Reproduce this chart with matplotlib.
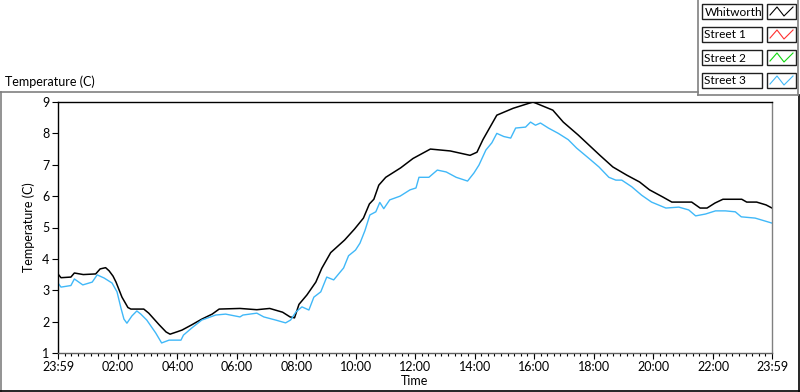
import numpy as np
import matplotlib
matplotlib.use('Agg')
import matplotlib.pyplot as plt
from matplotlib.lines import Line2D
from matplotlib.patches import Rectangle

# minutes after midnight (23:59 of previous day = -1)
whit_t = [-1, 5, 25, 32, 50, 75, 84, 95, 102, 110, 116, 128, 140, 146, 172, 182,
          203, 217, 225, 240, 249, 269, 289, 310, 324, 366, 400, 426, 452, 467,
          476, 485, 501, 519, 531, 549, 577, 597, 615, 627, 636, 646, 660, 677,
          690, 715, 750, 790, 830, 844, 856, 884, 917, 957, 997, 1018, 1048,
          1092, 1118, 1146, 1172, 1192, 1219, 1237, 1277, 1294, 1308, 1324,
          1340, 1378, 1388, 1408, 1427, 1439]
whit_v = [3.52, 3.4, 3.42, 3.55, 3.5, 3.52, 3.68, 3.72, 3.62, 3.45, 3.26, 2.78,
          2.45, 2.4, 2.4, 2.27, 1.9, 1.67, 1.6, 1.68, 1.73, 1.9, 2.08, 2.24, 2.4,
          2.42, 2.38, 2.42, 2.3, 2.15, 2.12, 2.55, 2.85, 3.26, 3.7, 4.2, 4.6,
          4.95, 5.3, 5.75, 5.9, 6.35, 6.6, 6.77, 6.9, 7.2, 7.5, 7.44, 7.3, 7.4,
          7.8, 8.58, 8.8, 9.0, 8.74, 8.36, 7.95, 7.3, 6.93, 6.67, 6.45, 6.2,
          5.97, 5.81, 5.81, 5.62, 5.62, 5.78, 5.9, 5.9, 5.81, 5.81, 5.72, 5.62]

st3_t = [-1, 5, 25, 32, 49, 68, 78, 92, 108, 118, 126, 132, 138, 148, 158, 166,
         178, 196, 208, 223, 247, 252, 269, 289, 317, 337, 366, 372, 400, 414,
         438, 458, 468, 479, 491, 505, 515, 529, 541, 555, 575, 585, 599, 608,
         618, 628, 640, 648, 656, 668, 689, 709, 721, 727, 747, 764, 782, 802,
         825, 838, 848, 862, 874, 884, 898, 912, 922, 942, 952, 962, 972, 988,
         1008, 1028, 1045, 1070, 1090, 1110, 1124, 1136, 1156, 1176, 1196,
         1225, 1251, 1271, 1285, 1305, 1325, 1345, 1365, 1377, 1405, 1439]
st3_v = [3.23, 3.1, 3.15, 3.36, 3.17, 3.26, 3.49, 3.39, 3.23, 2.95, 2.43, 2.08,
         1.95, 2.18, 2.34, 2.24, 2.05, 1.64, 1.32, 1.41, 1.41, 1.57, 1.8, 2.05,
         2.21, 2.24, 2.15, 2.21, 2.27, 2.15, 2.05, 1.96, 2.05, 2.31, 2.47, 2.37,
         2.78, 2.95, 3.42, 3.33, 3.71, 4.1, 4.28, 4.5, 4.9, 5.4, 5.5, 5.8, 5.6,
         5.88, 6.0, 6.2, 6.26, 6.6, 6.6, 6.83, 6.77, 6.6, 6.48, 6.74, 6.99, 7.47,
         7.7, 8.0, 7.9, 7.85, 8.17, 8.2, 8.36, 8.26, 8.33, 8.17, 8.0, 7.8, 7.53,
         7.2, 6.93, 6.6, 6.51, 6.51, 6.3, 6.03, 5.81, 5.62, 5.65, 5.56, 5.37,
         5.43, 5.53, 5.53, 5.5, 5.34, 5.3, 5.14]

tick_pos = [-1, 120, 240, 360, 480, 600, 720, 840, 960, 1080, 1200, 1320, 1439]
tick_lbl = ['23:59', '02:00', '04:00', '06:00', '08:00', '10:00', '12:00',
            '14:00', '16:00', '18:00', '20:00', '22:00', '23:59']

legend_names = ['Whitworth', 'Street 1', 'Street 2', 'Street 3']
legend_colors = ['#000000', '#ff3030', '#10d810', '#40b8f8']

plt.rcParams['font.family'] = ['Lato', 'DejaVu Sans']

W, H = 800, 392
fig = plt.figure(figsize=(W / 100, H / 100), dpi=100)


def fx(px):
    return px / W


def fy(py):
    return 1 - py / H


ax = fig.add_axes([fx(58), fy(353), fx(772 - 58), (353 - 102) / H])
ax.plot(whit_t, whit_v, color=legend_colors[0], lw=1.1)
ax.plot(st3_t, st3_v, color=legend_colors[3], lw=1.0)

ax.set_xlim(-1, 1439)
ax.set_ylim(1, 9)
ax.set_xticks(tick_pos)
ax.set_xticklabels(tick_lbl)
ax.set_xticks(np.linspace(-1, 1439, 109), minor=True)
ax.set_yticks(range(1, 10))
ax.tick_params(axis='x', which='major', length=4, width=0.8, pad=2, labelsize=9)
ax.tick_params(axis='x', which='minor', length=2.2, width=0.8)
ax.tick_params(axis='y', length=4.5, width=0.8, pad=1.5, labelsize=9)

ax.spines['left'].set_color('black')
ax.spines['top'].set_color('black')
ax.spines['right'].set_color('#808080')
ax.spines['bottom'].set_color('#606060')
for s in ax.spines.values():
    s.set_linewidth(1.0)

ax.set_xlabel('Time', fontsize=9, labelpad=1)
ax.set_ylabel('Temperature (C)', fontsize=9, labelpad=5)

fig.text(fx(5), fy(82), 'Temperature (C)', fontsize=9, va='center', ha='left')

# panel frame
frame = [((0, 698), (92, 92), '#808080'),
         ((0.5, 0.5), (92, 392), '#808080'),
         ((0, 800), (390.5, 390.5), '#000000'),
         ((799, 799), (95, 392), '#000000'),
         ((698, 698), (0, 95), '#808080'),
         ((698, 798), (95, 95), '#808080'),
         ((797.5, 797.5), (0, 95), '#808080')]
for xs, ys, c in frame:
    fig.add_artist(Line2D([fx(x) for x in xs], [fy(y) for y in ys],
                          color=c, lw=1.2))

# legend
row_top = [4, 27, 50, 73]
for name, col, top in zip(legend_names, legend_colors, row_top):
    h = 15
    fig.add_artist(Rectangle((fx(702), fy(top + h)), fx(60), h / H,
                             fill=False, ec='#202020', lw=1.0))
    fig.add_artist(Rectangle((fx(767), fy(top + h)), fx(29), h / H,
                             fill=False, ec='#202020', lw=1.0))
    fig.text(fx(704.5), fy(top + h / 2 + 0.5), name, fontsize=8.6,
             va='center', ha='left')
    zx = [770, 777, 784, 793]
    zy = [top + 11, top + 3, top + 12, top + 3]
    fig.add_artist(Line2D([fx(x) for x in zx], [fy(y) for y in zy],
                          color=col, lw=0.8))

fig.savefig('out.png', dpi=100)
